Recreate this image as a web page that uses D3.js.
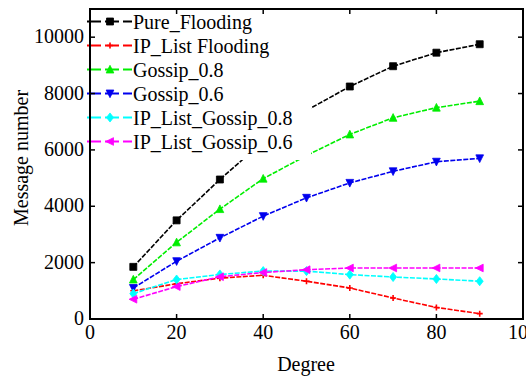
<!DOCTYPE html>
<html>
<head>
<meta charset="utf-8">
<script src="https://cdn.jsdelivr.net/npm/d3@7"></script>
<style>
  body { margin: 0; background: #fff; }
  svg text { font-family: 'Liberation Serif', 'Times New Roman', Times, serif; }
</style>
</head>
<body>
<svg id="chart" width="526" height="377"></svg>
<script>
// degree values on x
const degrees = [10, 20, 30, 40, 50, 60, 70, 80, 90];
// message counts
const pureFlooding = [1850, 3500, 4950, 6300, 7400, 8250, 8970, 9450, 9750];
const ipListFlooding = [1000, 1250, 1450, 1550, 1340, 1100, 745, 410, 190];
const gossip08 = [1400, 2720, 3900, 4980, 5800, 6550, 7140, 7500, 7730];
const gossip06 = [1100, 2050, 2880, 3650, 4300, 4830, 5240, 5580, 5700];
const ipListGossip08 = [900, 1400, 1580, 1700, 1700, 1575, 1490, 1420, 1340];
const ipListGossip06 = [700, 1150, 1500, 1650, 1750, 1810, 1810, 1810, 1810];
const seriesNames = ['Pure_Flooding', 'IP_List Flooding', 'Gossip_0.8', 'Gossip_0.6', 'IP_List_Gossip_0.8', 'IP_List_Gossip_0.6'];
const xTicks = [0, 20, 40, 60, 80, 100];
const yTicks = [0, 2000, 4000, 6000, 8000, 10000];

const series = [
  { name: seriesNames[0], values: pureFlooding, color: '#000000', shape: 'square' },
  { name: seriesNames[1], values: ipListFlooding, color: '#ff0000', shape: 'plus' },
  { name: seriesNames[2], values: gossip08, color: '#00ee00', shape: 'up' },
  { name: seriesNames[3], values: gossip06, color: '#0000ee', shape: 'down' },
  { name: seriesNames[4], values: ipListGossip08, color: '#00ffff', shape: 'diamond' },
  { name: seriesNames[5], values: ipListGossip06, color: '#ff00ff', shape: 'left' }
];

const fontSize = 20;
const svg = d3.select('#chart');
const plotLeft = 90, plotRight = 523, plotTop = 9, plotBottom = 319;

const x = d3.scaleLinear().domain([0, 100]).range([plotLeft, plotRight]);
const y = d3.scaleLinear().domain([0, 11000]).range([plotBottom, plotTop]);

// marker path around 0,0
function marker(shape, s) {
  switch (shape) {
    case 'square': return `M${-s},${-s}H${s}V${s}H${-s}Z`;
    case 'plus': return `M${-s},0H${s}M0,${-s}V${s}`;
    case 'up': return `M0,${-s * 1.2}L${s * 1.1},${s}L${-s * 1.1},${s}Z`;
    case 'down': return `M0,${s * 1.2}L${s * 1.1},${-s}L${-s * 1.1},${-s}Z`;
    case 'diamond': return `M0,${-s * 1.3}L${s},0L0,${s * 1.3}L${-s},0Z`;
    case 'left': return `M${-s * 1.2},0L${s},${-s * 1.1}L${s},${s * 1.1}Z`;
  }
}

const line = d3.line().x(d => x(d[0])).y(d => y(d[1]));

const plot = svg.append('g');
series.forEach(s => {
  const pts = degrees.map((d, i) => [d, s.values[i]]);
  plot.append('path')
    .attr('d', line(pts))
    .attr('fill', 'none')
    .attr('stroke', s.color)
    .attr('stroke-width', 1.6)
    .attr('stroke-dasharray', '5,1.5');
  plot.selectAll(null)
    .data(pts)
    .enter()
    .append('path')
    .attr('transform', d => `translate(${x(d[0])},${y(d[1])})`)
    .attr('d', marker(s.shape, s.shape === 'plus' ? 3 : 3.5))
    .attr('fill', s.color)
    .attr('stroke', s.color)
    .attr('stroke-width', s.shape === 'plus' ? 1.6 : 0.8);
});

// legend with white box covering the lines
const legend = svg.append('g');
legend.append('rect')
  .attr('x', plotLeft + 1)
  .attr('y', plotTop + 1)
  .attr('width', 220)
  .attr('height', 150)
  .attr('fill', '#fff');
series.forEach((s, i) => {
  const ly = 21.5 + i * 24;
  legend.append('line')
    .attr('x1', 87).attr('x2', 132)
    .attr('y1', ly).attr('y2', ly)
    .attr('stroke', s.color)
    .attr('stroke-width', 1.8)
    .attr('stroke-dasharray', '14,4');
  legend.append('path')
    .attr('transform', `translate(110,${ly})`)
    .attr('d', marker(s.shape, s.shape === 'plus' ? 3 : 3.5))
    .attr('fill', s.color)
    .attr('stroke', s.color)
    .attr('stroke-width', s.shape === 'plus' ? 1.6 : 0.8);
  legend.append('text')
    .attr('x', 133)
    .attr('y', ly + 7)
    .attr('font-size', fontSize)
    .text(s.name);
});

// frame
svg.append('rect')
  .attr('x', plotLeft).attr('y', plotTop)
  .attr('width', plotRight - plotLeft).attr('height', plotBottom - plotTop)
  .attr('fill', 'none')
  .attr('stroke', '#000')
  .attr('stroke-width', 2);

// inward ticks on all sides
const tickLen = 5;
const tickG = svg.append('g').attr('stroke', '#000').attr('stroke-width', 1.5);
xTicks.forEach(t => {
  tickG.append('line').attr('x1', x(t)).attr('x2', x(t)).attr('y1', plotBottom).attr('y2', plotBottom - tickLen);
  tickG.append('line').attr('x1', x(t)).attr('x2', x(t)).attr('y1', plotTop).attr('y2', plotTop + tickLen);
});
yTicks.forEach(t => {
  tickG.append('line').attr('x1', plotLeft).attr('x2', plotLeft + tickLen).attr('y1', y(t)).attr('y2', y(t));
  tickG.append('line').attr('x1', plotRight).attr('x2', plotRight - tickLen).attr('y1', y(t)).attr('y2', y(t));
});

// tick labels
svg.append('g').selectAll('text')
  .data(xTicks)
  .enter()
  .append('text')
  .attr('x', d => x(d))
  .attr('y', 339)
  .attr('text-anchor', 'middle')
  .attr('font-size', fontSize)
  .text(d => d);
svg.append('g').selectAll('text')
  .data(yTicks)
  .enter()
  .append('text')
  .attr('x', 84)
  .attr('y', d => y(d) + 6)
  .attr('text-anchor', 'end')
  .attr('font-size', fontSize)
  .text(d => d);

// axis titles
svg.append('text')
  .attr('x', 306)
  .attr('y', 371)
  .attr('text-anchor', 'middle')
  .attr('font-size', fontSize)
  .text('Degree');
svg.append('text')
  .attr('transform', 'translate(28,158) rotate(-90)')
  .attr('text-anchor', 'middle')
  .attr('font-size', fontSize)
  .text('Message number');
</script>
</body>
</html>
